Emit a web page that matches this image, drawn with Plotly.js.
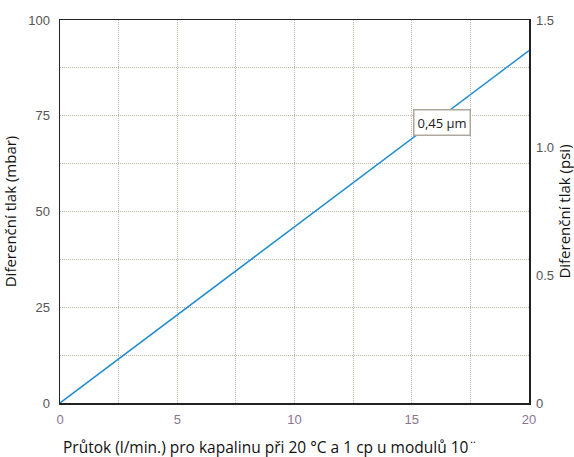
<!DOCTYPE html>
<html>
<head>
<meta charset="utf-8">
<script src="https://cdn.plot.ly/plotly-3.0.1.min.js"></script>
<style>html,body{margin:0;padding:0;background:#fff;}#chart{width:574px;height:457px;}</style>
</head>
<body>
<div id="chart"></div>
<script>
// Data
const flow = [0, 20];                 // l/min
const dpMbar = [0, 92];               // mbar
const seriesLabel = '0,45 µm';
const labelPos = {x: 16.3, y: 73.2};
const xTitle = 'Průtok (l/min.) pro kapalinu při 20 °C a 1 cp u modulů 10¨';
const xTickVals = [0, 2.5, 5, 7.5, 10, 12.5, 15, 17.5, 20];
const xTickText = ['0', '', '5', '', '10', '', '15', '', '20'];
const yTickVals = [0, 12.5, 25, 37.5, 50, 62.5, 75, 87.5, 100];
const yTickText = ['0', '', '25', '', '50', '', '75', '', '100'];
const y2TickVals = [0, 0.5, 1.0, 1.5];
const y2TickText = ['0', '0.5', '1.0', '1.5'];

const tickFont = {family: 'Liberation Sans Narrow, Arial Narrow, sans-serif', size: 13, color: '#555555'};
const titleFont = {family: 'Open Sans, Noto Sans, sans-serif', size: 15, color: '#111111'};
const gridCol = '#bdb7aa';

const traces = [
  {x: flow, y: dpMbar, type: 'scatter', mode: 'lines', line: {color: '#1b8bd0', width: 1.5}, hoverinfo: 'skip', showlegend: false},
  {x: [0, 20], y: [0, 0], yaxis: 'y2', type: 'scatter', mode: 'lines', line: {width: 0}, hoverinfo: 'skip', showlegend: false}
];

const pw = 574 - 60 - 45, ph = 457 - 20 - 54;

const layout = {
  width: 574, height: 457,
  margin: {l: 60, r: 45, t: 20, b: 54},
  paper_bgcolor: '#ffffff', plot_bgcolor: '#ffffff',
  font: {family: 'Open Sans, Noto Sans, sans-serif'},
  xaxis: {
    range: [0, 20], tickvals: xTickVals, ticktext: xTickText,
    showgrid: true, gridcolor: gridCol, griddash: '1px,1px', gridwidth: 1,
    showline: true, linecolor: '#222222', linewidth: 1.5, mirror: true,
    zeroline: false, ticks: '', ticklabelstandoff: 4,
    tickfont: {family: tickFont.family, size: 13, color: '#8b7394'}
  },
  yaxis: {
    range: [0, 100], tickvals: yTickVals, ticktext: yTickText,
    showgrid: true, gridcolor: gridCol, griddash: '1px,1px', gridwidth: 1,
    showline: true, linecolor: '#222222', linewidth: 1.5, mirror: true,
    zeroline: false, ticks: '', ticklabelstandoff: 6,
    tickfont: tickFont,
    title: {text: 'Diferenční tlak (mbar)', font: titleFont, standoff: 10}
  },
  yaxis2: {
    range: [0, 1.5], overlaying: 'y', side: 'right',
    tickvals: y2TickVals, ticktext: y2TickText,
    showgrid: false, zeroline: false, showline: false, ticks: '',
    ticklabelstandoff: 6,
    tickfont: tickFont,
    title: {text: 'Diferenční tlak (psi)', font: titleFont, standoff: 6}
  },
  annotations: [{
    x: labelPos.x, y: labelPos.y, xref: 'x', yref: 'y', text: seriesLabel, showarrow: false,
    font: {family: 'Open Sans, Noto Sans, sans-serif', size: 13, color: '#222222'},
    bgcolor: '#ffffff', bordercolor: '#aea79b', borderwidth: 1.5, borderpad: 3
  }, {
    x: (270 - 60) / pw, y: (457 - 54 - 447) / ph, xref: 'paper', yref: 'paper',
    xanchor: 'center', yanchor: 'middle', text: xTitle, showarrow: false,
    font: {family: 'Open Sans, Noto Sans, sans-serif', size: 15.5, color: '#111111'}
  }]
};

Plotly.newPlot('chart', traces, layout, {displayModeBar: false, staticPlot: true});
</script>
</body>
</html>
